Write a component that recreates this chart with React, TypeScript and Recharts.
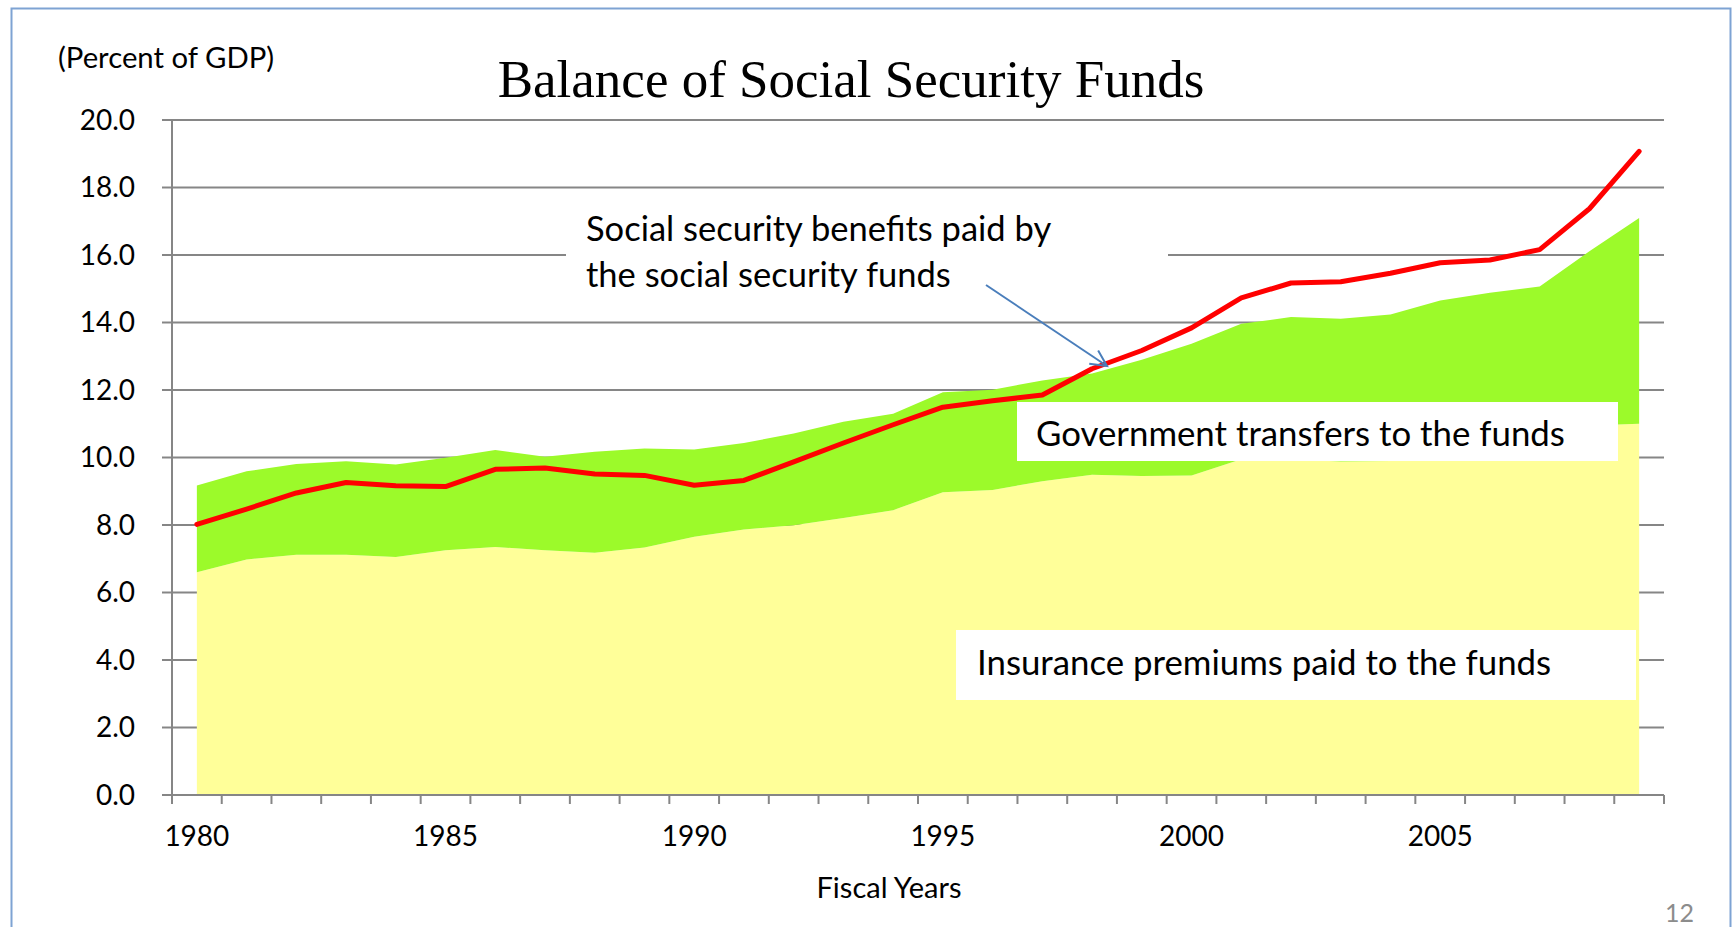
import React from "react";
import {
  Area,
  CartesianGrid,
  ComposedChart,
  Line,
  XAxis,
  YAxis,
} from "recharts";

const years = [
  1980, 1981, 1982, 1983, 1984, 1985, 1986, 1987, 1988, 1989, 1990, 1991,
  1992, 1993, 1994, 1995, 1996, 1997, 1998, 1999, 2000, 2001, 2002, 2003,
  2004, 2005, 2006, 2007, 2008, 2009,
];

// insurance premiums paid to the funds (% of GDP)
const premiums = [
  6.6, 6.98, 7.12, 7.12, 7.05, 7.25, 7.35, 7.25, 7.18, 7.33, 7.65, 7.87, 7.99,
  8.21, 8.44, 8.97, 9.04, 9.3, 9.49, 9.45, 9.47, 9.95, 9.95, 9.88, 9.9, 10.05,
  10.3, 10.5, 10.95, 11.0,
];

// government transfers, stacked on top of premiums
const transfers = [
  2.57, 2.61, 2.69, 2.77, 2.74, 2.74, 2.87, 2.77, 2.99, 2.94, 2.59, 2.56, 2.72,
  2.85, 2.86, 2.96, 2.97, 2.98, 3.0, 3.45, 3.9, 4.01, 4.21, 4.23, 4.34, 4.6,
  4.58, 4.57, 5.16, 6.1,
];

// social security benefits paid by the funds
const benefits = [
  8.02, 8.47, 8.95, 9.26, 9.16, 9.14, 9.65, 9.69, 9.51, 9.47, 9.18, 9.32, 9.87,
  10.43, 10.97, 11.49, 11.68, 11.85, 12.63, 13.17, 13.84, 14.73, 15.17, 15.21,
  15.46, 15.77, 15.85, 16.16, 17.37, 19.07,
];

const yTicks = [0, 2, 4, 6, 8, 10, 12, 14, 16, 18, 20];
const xLabels = [1980, 1985, 1990, 1995, 2000, 2005];

const data = years.map((year, i) => ({
  year,
  premiums: premiums[i],
  transfers: transfers[i],
  benefits: benefits[i],
}));

const W = 1733;
const H = 927;
const PLOT_LEFT = 172;
const PLOT_RIGHT = 1664;
const PLOT_TOP = 120;
const PLOT_BOTTOM = 795;
const AXIS_GRAY = "#868686";
const SANS = "Lato, 'Open Sans', sans-serif";

const YearTick = (props: any) => {
  const { x, payload, index } = props;
  const half =
    payload && payload.offset ? payload.offset : (PLOT_RIGHT - PLOT_LEFT) / years.length / 2;
  const show = xLabels.includes(Number(payload.value));
  return (
    <g>
      <line
        x1={x - half}
        x2={x - half}
        y1={PLOT_BOTTOM}
        y2={PLOT_BOTTOM + 9}
        stroke={AXIS_GRAY}
        strokeWidth={2}
      />
      {index === years.length - 1 && (
        <line
          x1={x + half}
          x2={x + half}
          y1={PLOT_BOTTOM}
          y2={PLOT_BOTTOM + 9}
          stroke={AXIS_GRAY}
          strokeWidth={2}
        />
      )}
      {show && (
        <text
          x={x}
          y={846}
          textAnchor="middle"
          fontSize={28}
          fontFamily={SANS}
          fill="#000"
        >
          {payload.value}
        </text>
      )}
    </g>
  );
};

export default function App() {
  return (
    <div
      style={{
        position: "absolute",
        left: 0,
        top: 0,
        width: W,
        height: H,
        background: "#fff",
        fontFamily: SANS,
      }}
    >
      <ComposedChart
        width={W}
        height={H}
        data={data}
        margin={{
          top: PLOT_TOP,
          right: W - PLOT_RIGHT,
          bottom: H - PLOT_BOTTOM - 60,
          left: PLOT_LEFT - 100,
        }}
      >
        <CartesianGrid vertical={false} stroke={AXIS_GRAY} strokeWidth={2} />
        <Area
          type="linear"
          dataKey="premiums"
          stackId="funds"
          stroke="none"
          fill="#ffff99"
          fillOpacity={1}
          isAnimationActive={false}
        />
        <Area
          type="linear"
          dataKey="transfers"
          stackId="funds"
          stroke="none"
          fill="#9cfa2a"
          fillOpacity={1}
          isAnimationActive={false}
        />
        <Line
          type="linear"
          dataKey="benefits"
          stroke="#ff0000"
          strokeWidth={5}
          strokeLinejoin="round"
          strokeLinecap="round"
          dot={false}
          activeDot={false}
          isAnimationActive={false}
        />
        <XAxis
          dataKey="year"
          type="category"
          scale="band"
          interval={0}
          height={60}
          tickLine={false}
          axisLine={{ stroke: AXIS_GRAY, strokeWidth: 2 }}
          tick={<YearTick />}
        />
        <YAxis
          domain={[0, 20]}
          ticks={yTicks}
          width={100}
          interval={0}
          tickSize={10}
          tickMargin={27}
          tickFormatter={(v: number) => v.toFixed(1)}
          axisLine={{ stroke: AXIS_GRAY, strokeWidth: 2 }}
          tickLine={{ stroke: AXIS_GRAY, strokeWidth: 2 }}
          tick={{ fontSize: 28, fill: "#000", fontFamily: SANS }}
        />
      </ComposedChart>

      <svg
        width={W}
        height={H}
        style={{ position: "absolute", left: 0, top: 0, pointerEvents: "none" }}
      >
        <defs>
          <marker
            id="openArrow"
            markerUnits="userSpaceOnUse"
            markerWidth={22}
            markerHeight={22}
            refX={18}
            refY={9}
            orient="auto"
          >
            <path d="M2,1 L18,9 L2,17" fill="none" stroke="#4a7ebb" strokeWidth={2} />
          </marker>
        </defs>

        <rect x={11.5} y={8.5} width={1719} height={940} fill="none" stroke="#7ea3d3" strokeWidth={2} />

        <text x={58} y={68} fontSize={29.3} fontFamily={SANS} fill="#000">
          (Percent of GDP)
        </text>
        <text
          x={851}
          y={97}
          textAnchor="middle"
          fontSize={53}
          fontFamily="'Liberation Serif', 'Times New Roman', serif"
          fill="#000"
        >
          Balance of Social Security Funds
        </text>

        <rect x={566} y={205} width={602} height={95} fill="#fff" />
        <text x={586} y={241} fontSize={34.5} fontFamily={SANS} fill="#000">
          Social security benefits paid by
        </text>
        <text x={586} y={287} fontSize={34.5} fontFamily={SANS} fill="#000">
          the social security funds
        </text>
        <line
          x1={986}
          y1={285}
          x2={1107}
          y2={366}
          stroke="#4a7ebb"
          strokeWidth={2}
          markerEnd="url(#openArrow)"
        />

        <rect x={1017} y={402} width={601} height={59} fill="#fff" />
        <text x={1036} y={446} fontSize={34.8} fontFamily={SANS} fill="#000">
          Government transfers to the funds
        </text>

        <rect x={956} y={630} width={680} height={70} fill="#fff" />
        <text x={977} y={675} fontSize={34.8} fontFamily={SANS} fill="#000">
          Insurance premiums paid to the funds
        </text>

        <text x={889} y={898} textAnchor="middle" fontSize={29} fontFamily={SANS} fill="#000">
          Fiscal Years
        </text>
        <text x={1665} y={922} fontSize={25} fontFamily={SANS} fill="#8c8c8c">
          12
        </text>
      </svg>
    </div>
  );
}
